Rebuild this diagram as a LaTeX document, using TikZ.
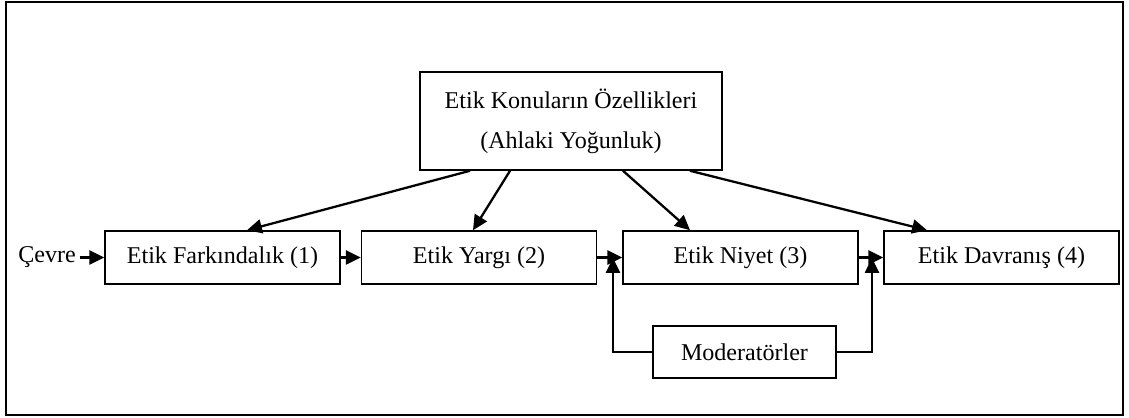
\documentclass[tikz,border=0pt]{standalone}
\usepackage{fontspec}
\setmainfont{Liberation Serif}
\usetikzlibrary{arrows.meta}

\begin{document}
\begin{tikzpicture}[x=0.02cm,y=-0.02cm,
    font=\fontsize{13.7}{22.7}\selectfont,
    kutu/.style={draw, line width=0.9pt, minimum width=4.7cm, minimum height=1.06cm, inner sep=0pt},
    ok/.style={-{Triangle[length=8.5pt,width=8pt]}, line width=1.3pt}]
  \useasboundingbox (0,0) rectangle (1129,418);
  \draw[line width=1.5pt] (6,2) rectangle (1123,415);

  \node[kutu, minimum width=6.04cm, minimum height=1.96cm, align=center] (ozellik) at (571,121)
    {Etik Konuların Özellikleri\\(Ahlaki Yoğunluk)};

  \node[kutu] (farkindalik) at (222.5,257.5) {Etik Farkındalık (1)};
  \node[kutu] (yargi) at (479,257.5) {Etik Yargı (2)};
  \node[kutu] (niyet) at (740.5,257.5) {Etik Niyet (3)};
  \node[kutu] (davranis) at (1001.5,257.5) {Etik Davranış (4)};
  \node[kutu, minimum width=3.66cm, minimum height=1.04cm] (moderator) at (744.5,352) {Moderatörler};
  \node[inner sep=2pt] (cevre) at (47,257.5) {Çevre};

  \coordinate (m1) at (613,258);
  \coordinate (m2) at (872,258);

  \draw[ok] ([xshift=-2.02cm]ozellik.south) -- ([xshift=0.49cm]farkindalik.north);
  \draw[ok] ([xshift=-1.22cm]ozellik.south) -- ([xshift=-0.12cm]yargi.north);
  \draw[ok] ([xshift=1.04cm]ozellik.south) -- ([xshift=-1.01cm]niyet.north);
  \draw[ok] ([xshift=2.38cm]ozellik.south) -- ([xshift=-1.49cm]davranis.north);

  \draw[ok] (cevre.east) -- (farkindalik.west);
  \draw[ok] (farkindalik.east) -- (yargi.west);
  \draw[ok] (yargi.east) -- (niyet.west);
  \draw[ok] (niyet.east) -- (davranis.west);

  \draw[ok] (moderator.west) -| (m1);
  \draw[ok] (moderator.east) -| (m2);
\end{tikzpicture}
\end{document}
